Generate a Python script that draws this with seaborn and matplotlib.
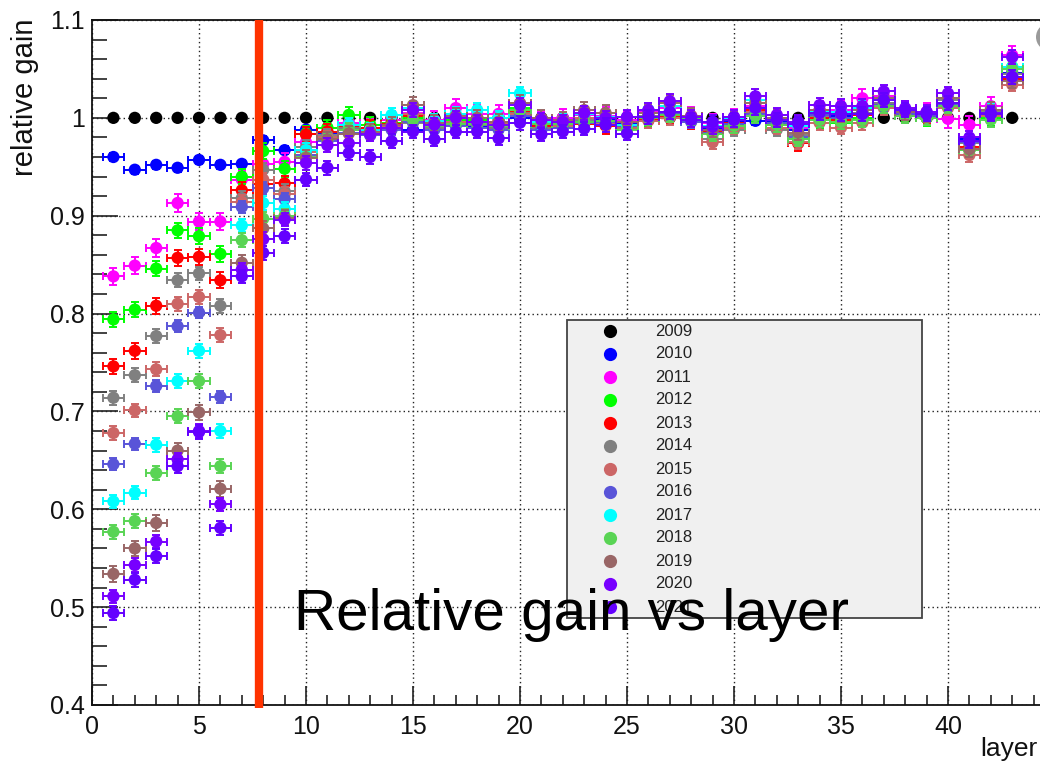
import numpy as np
import pandas as pd
import matplotlib
matplotlib.use("Agg")
import matplotlib.pyplot as plt
import matplotlib.transforms as mtransforms
import seaborn as sns
from matplotlib.patches import Rectangle, Circle
from matplotlib.lines import Line2D
from matplotlib.ticker import MultipleLocator, FixedLocator, FixedFormatter

# ---------------- data ----------------
layers = list(range(1, 44))
years = ["2009", "2010", "2011", "2012", "2013", "2014", "2015",
         "2016", "2017", "2018", "2019", "2020", "2021"]
colors = ["#000000", "#0000ff", "#ff00ff", "#00ff00", "#ff0000", "#808080",
          "#cc6666", "#5954d8", "#00ffff", "#59d454", "#996666", "#7700ff",
          "#6400ff"]

gain_2009 = [1.000, 1.000, 1.000, 1.000, 1.000, 1.000, 1.000, 1.000, 1.000,
             1.000, 1.000, 1.000, 1.000, 1.000, 1.000, 1.000, 1.000, 1.000, 1.000,
             1.000, 1.000, 1.000, 1.000, 1.000, 1.000, 1.000, 1.000, 1.000, 1.000,
             1.000, 1.000, 1.000, 1.000, 1.000, 1.000, 1.000, 1.000, 1.000, 1.000,
             1.000, 1.000, 1.000, 1.000]
gain_2010 = [0.960, 0.947, 0.952, 0.949, 0.957, 0.952, 0.953, 0.977, 0.967,
             0.988, 0.985, 0.990, 0.988, 0.992, 0.988, 0.990, 0.993, 0.992, 0.990,
             1.000, 0.993, 0.995, 0.997, 0.998, 0.995, 1.002, 1.006, 0.999, 0.990,
             0.996, 0.997, 0.996, 0.988, 1.004, 1.002, 1.005, 1.015, 1.006, 1.003,
             1.015, 0.978, 1.005, 1.046]
gain_2011 = [0.838, 0.849, 0.867, 0.913, 0.894, 0.894, 0.937, 0.953, 0.955,
             0.975, 0.980, 0.995, 0.990, 0.998, 1.005, 0.998, 1.010, 1.004, 1.004,
             1.015, 0.998, 1.000, 1.003, 1.002, 0.998, 1.006, 1.010, 1.002, 0.995,
             1.000, 1.012, 1.000, 0.990, 1.008, 1.008, 1.020, 1.022, 1.008, 1.006,
             0.999, 0.993, 1.012, 1.064]
gain_2012 = [0.794, 0.804, 0.846, 0.885, 0.879, 0.861, 0.940, 0.966, 0.948,
             0.984, 0.990, 1.003, 0.993, 0.995, 1.000, 0.995, 0.998, 0.998, 0.995,
             1.010, 0.990, 0.993, 0.995, 0.997, 0.990, 1.000, 1.004, 0.998, 0.985,
             0.993, 1.005, 0.995, 0.978, 0.998, 0.995, 1.000, 1.012, 1.004, 1.000,
             1.015, 0.967, 1.000, 1.052]
gain_2013 = [0.746, 0.762, 0.808, 0.857, 0.858, 0.834, 0.926, 0.932, 0.933,
             0.983, 0.986, 0.992, 0.990, 0.994, 1.002, 0.993, 1.000, 0.996, 0.996,
             1.006, 0.992, 0.996, 0.994, 0.992, 0.993, 0.998, 1.002, 0.997, 0.987,
             0.995, 1.008, 0.993, 0.974, 1.000, 0.998, 1.003, 1.014, 1.003, 1.002,
             1.012, 0.970, 1.003, 1.040]
gain_2014 = [0.714, 0.737, 0.777, 0.834, 0.841, 0.808, 0.918, 0.947, 0.925,
             0.970, 0.982, 0.990, 0.986, 0.990, 0.995, 0.990, 0.995, 0.993, 0.990,
             1.005, 0.990, 0.990, 0.998, 1.000, 0.992, 1.002, 1.005, 0.997, 0.978,
             0.988, 1.010, 0.988, 0.982, 1.002, 1.000, 1.005, 1.015, 1.005, 1.003,
             1.018, 0.974, 1.006, 1.045]
gain_2015 = [0.678, 0.701, 0.743, 0.810, 0.817, 0.778, 0.914, 0.937, 0.922,
             0.965, 0.980, 0.988, 0.984, 0.992, 1.004, 0.992, 0.996, 0.995, 0.994,
             1.004, 0.995, 0.992, 1.000, 0.995, 0.990, 0.997, 1.000, 0.998, 0.975,
             0.990, 1.006, 0.990, 0.975, 0.995, 0.990, 0.995, 1.010, 1.002, 1.000,
             1.010, 0.962, 1.002, 1.034]
gain_2016 = [0.646, 0.667, 0.726, 0.787, 0.801, 0.715, 0.909, 0.928, 0.917,
             0.962, 0.976, 0.985, 0.982, 0.988, 0.996, 0.988, 0.992, 0.990, 0.988,
             1.002, 0.988, 0.990, 0.995, 0.996, 0.992, 1.000, 1.004, 0.996, 0.985,
             0.994, 1.004, 0.995, 0.980, 1.003, 1.000, 1.004, 1.013, 1.004, 1.002,
             1.013, 0.975, 1.004, 1.042]
gain_2017 = [0.608, 0.617, 0.666, 0.731, 0.762, 0.680, 0.890, 0.913, 0.907,
             0.967, 0.978, 0.993, 0.988, 1.003, 1.010, 0.997, 1.004, 1.008, 1.000,
             1.025, 0.996, 0.998, 1.004, 1.001, 0.993, 1.008, 1.012, 1.000, 0.992,
             1.000, 1.018, 1.000, 0.992, 1.006, 1.006, 1.010, 1.020, 1.008, 1.004,
             1.020, 0.976, 1.008, 1.052]
gain_2018 = [0.577, 0.588, 0.637, 0.695, 0.731, 0.644, 0.875, 0.897, 0.900,
             0.960, 0.978, 0.988, 0.985, 0.990, 0.998, 0.992, 0.994, 0.994, 0.992,
             1.008, 0.994, 0.994, 0.996, 0.997, 0.988, 1.000, 1.003, 1.000, 0.983,
             0.992, 1.002, 0.993, 0.978, 0.998, 0.996, 0.998, 1.012, 1.002, 1.000,
             1.012, 0.967, 0.998, 1.050]
gain_2019 = [0.534, 0.560, 0.586, 0.660, 0.699, 0.621, 0.852, 0.887, 0.898,
             0.959, 0.978, 0.984, 0.986, 0.993, 1.013, 0.995, 1.002, 1.000, 0.996,
             1.015, 1.000, 0.998, 1.008, 1.005, 0.996, 1.005, 1.015, 1.002, 0.988,
             0.998, 1.015, 1.000, 0.985, 1.008, 1.004, 1.008, 1.020, 1.006, 1.004,
             1.020, 0.968, 1.008, 1.038]
gain_2020 = [0.511, 0.543, 0.567, 0.651, 0.680, 0.605, 0.845, 0.876, 0.896,
             0.954, 0.972, 0.974, 0.983, 0.990, 1.008, 0.993, 1.000, 0.996, 0.993,
             1.013, 0.998, 0.996, 1.005, 1.000, 1.001, 1.008, 1.017, 1.001, 0.991,
             1.001, 1.022, 1.003, 0.996, 1.013, 1.012, 1.012, 1.027, 1.010, 1.006,
             1.025, 0.980, 1.005, 1.062]
gain_2021 = [0.494, 0.528, 0.552, 0.644, 0.679, 0.581, 0.838, 0.862, 0.879,
             0.937, 0.949, 0.964, 0.960, 0.976, 0.986, 0.978, 0.986, 0.986, 0.979,
             0.995, 0.983, 0.986, 0.989, 0.993, 0.984, 1.001, 1.006, 0.998, 0.996,
             0.998, 1.010, 0.998, 0.994, 1.005, 1.004, 1.004, 1.018, 1.008, 1.004,
             1.015, 0.976, 1.004, 1.042]

gains = [gain_2009, gain_2010, gain_2011, gain_2012, gain_2013, gain_2014,
         gain_2015, gain_2016, gain_2017, gain_2018, gain_2019, gain_2020,
         gain_2021]
y_err = [0.0, 0.004, 0.009, 0.008, 0.008, 0.007, 0.007, 0.006, 0.007,
         0.007, 0.008, 0.007, 0.007]
x_err = [0.0, 0.5, 0.5, 0.5, 0.5, 0.5, 0.5, 0.5, 0.5, 0.5, 0.5, 0.5, 0.5]

x_ticks = [0, 5, 10, 15, 20, 25, 30, 35, 40]
x_tick_labels = ["0", "5", "10", "15", "20", "25", "30", "35", "40"]
y_ticks = [0.4, 0.5, 0.6, 0.7, 0.8, 0.9, 1.0, 1.1]
y_tick_labels = ["0.4", "0.5", "0.6", "0.7", "0.8", "0.9", "1", "1.1"]
cut_layer = 7.8

df = pd.DataFrame({
    "layer": np.tile(layers, len(years)),
    "gain": np.concatenate(gains),
    "year": np.repeat(years, len(layers)),
})

# ---------------- figure ----------------
sns.set_theme(style="ticks")
plt.rcParams["font.family"] = ["Liberation Sans", "DejaVu Sans"]

W, H = 1040, 763
fig = plt.figure(figsize=(W / 100, H / 100), dpi=100)
fig.patch.set_facecolor("white")


def fx(px):
    return px / W


def fy(py):
    return 1 - py / H


ppu = 21.4
x_left_px, y_top_px, y_bot_px = 92, 20, 705
ax = fig.add_axes([fx(x_left_px), fy(y_bot_px), ppu * 45 / W, (y_bot_px - y_top_px) / H])
ax.set_facecolor("white")
ax.set_xlim(0, 45)
ax.set_ylim(0.4, 1.1)

for s in ["left", "bottom", "top"]:
    ax.spines[s].set_color("#111111")
    ax.spines[s].set_linewidth(1.3)
ax.spines["right"].set_visible(False)

ax.xaxis.set_major_locator(FixedLocator(x_ticks))
ax.xaxis.set_major_formatter(FixedFormatter(x_tick_labels))
ax.xaxis.set_minor_locator(MultipleLocator(1))
ax.yaxis.set_major_locator(FixedLocator(y_ticks))
ax.yaxis.set_major_formatter(FixedFormatter(y_tick_labels))
ax.yaxis.set_minor_locator(MultipleLocator(0.02))

ax.tick_params(axis="x", which="major", direction="in", length=13.7, width=1.2,
               color="#222222", labelsize=18, pad=7, labelcolor="#111111")
ax.tick_params(axis="x", which="minor", direction="in", length=7, width=1.2,
               color="#222222")
ax.tick_params(axis="y", which="major", direction="in", length=19, width=1.2,
               color="#222222", labelsize=18, pad=5, labelcolor="#111111")
ax.tick_params(axis="y", which="minor", direction="in", length=11, width=1.2,
               color="#222222")

ax.grid(True, which="major", linestyle=(0, (1, 2.2)), color="#222222", linewidth=1.0)
ax.set_axisbelow(True)

for i, (yr, c) in enumerate(zip(years, colors)):
    sub = df[df["year"] == yr]
    if x_err[i] > 0:
        ax.errorbar(sub["layer"], sub["gain"], xerr=x_err[i], yerr=y_err[i],
                    fmt="none", ecolor=c, elinewidth=1.4, capsize=2.6,
                    capthick=1.4, zorder=3 + i * 0.1)
    sns.scatterplot(data=sub, x="layer", y="gain", color=c, s=78,
                    edgecolor="none", linewidth=0, ax=ax, zorder=3.05 + i * 0.1,
                    legend=False)

ax.set_xlabel("")
ax.set_ylabel("")

# vertical cut line
ax.plot([cut_layer, cut_layer], [0.397, 1.1], color="#ff3300", lw=6,
        solid_capstyle="butt", zorder=6, clip_on=False)

# ---------------- legend (ROOT-style box) ----------------
leg_l, leg_t, leg_r, leg_b = 567, 320, 922, 618
fig.add_artist(Rectangle((fx(leg_l), fy(leg_b)), (leg_r - leg_l) / W,
                         (leg_b - leg_t) / H, transform=fig.transFigure,
                         facecolor="#f0f0f0", edgecolor="#444444", lw=1.3,
                         zorder=20))
for i, (yr, c) in enumerate(zip(years, colors)):
    py = 331 + 23 * i
    fig.add_artist(Line2D([fx(610)], [fy(py)], marker="o", markersize=9.5,
                          color=c, markeredgewidth=0, linestyle="none",
                          transform=fig.transFigure, zorder=21))
    fig.text(fx(655), fy(py), yr, ha="left", va="center", fontsize=12,
             color="#222222", zorder=21)

# ---------------- texts ----------------
fig.text(fx(571), fy(630), "Relative gain vs layer", ha="center", va="baseline",
         fontsize=42, color="black", zorder=30)
fig.text(fx(25), fy(18), "relative gain", rotation=90, ha="center", va="top",
         fontsize=21, color="#111111")
fig.text(fx(980), fy(756), "layer", ha="left", va="baseline", fontsize=19,
         color="#111111")

# partial grey round button at the top-right corner
fig.add_artist(Circle((1050, H - 37), 14, transform=mtransforms.IdentityTransform(),
                      facecolor="#9a9a9a", edgecolor="none", zorder=25))

fig.savefig("out.png", dpi=100, facecolor="white")
